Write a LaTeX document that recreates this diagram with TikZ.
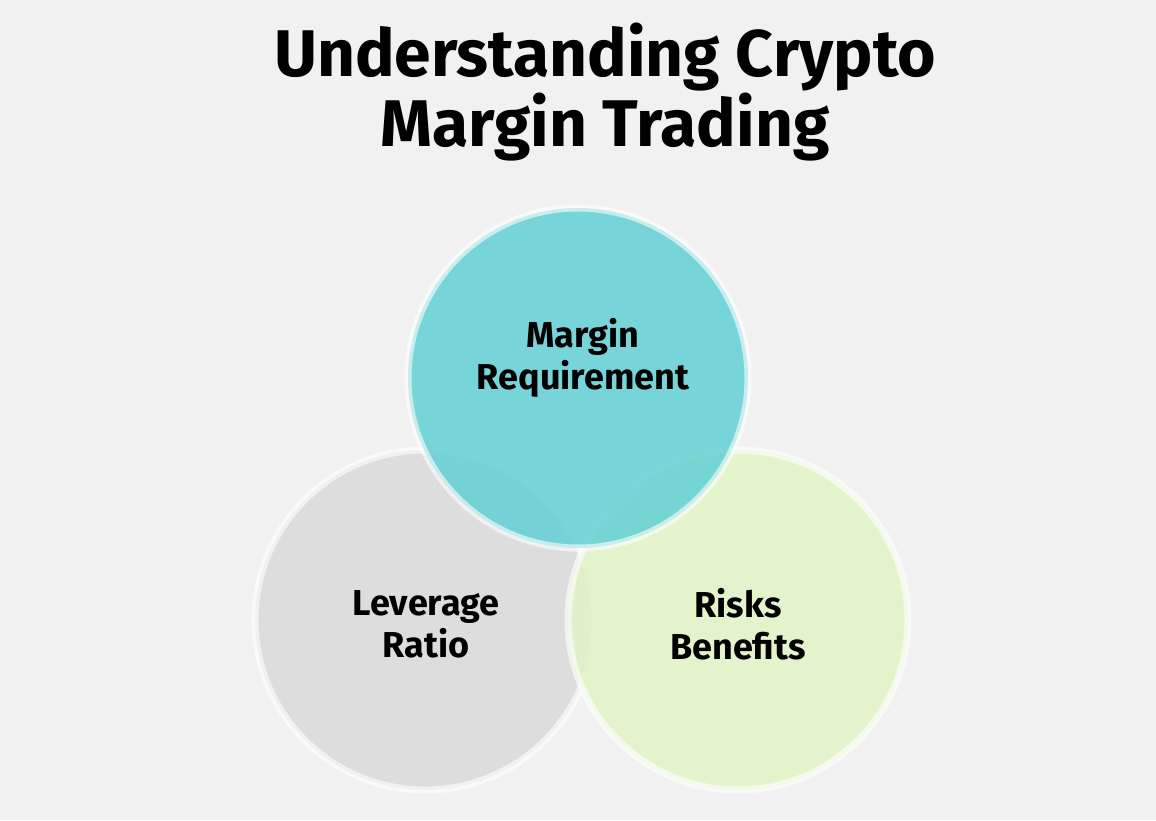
\documentclass[tikz,border=0pt]{standalone}
\usepackage{fontspec}
\setmainfont{Fira Sans}
\begin{document}
\begin{tikzpicture}[x=1pt,y=-1pt,
  circ/.style={fill opacity=0.85, draw=white, draw opacity=0.6, line width=7pt},
  lbl/.style={font=\fontsize{36}{42}\selectfont\bfseries, align=center, text=black}]
\fill[fill={rgb,255:red,240;green,241;blue,240}] (0,0) rectangle (1156,820);
\useasboundingbox (0,0) rectangle (1156,820);
\node[font=\fontsize{66}{70}\selectfont\bfseries, align=center] (title) at (605,92) {Understanding Crypto\\Margin Trading};
\draw[circ, fill={rgb,255:red,218;green,218;blue,218}] (425,620) circle (170);
\draw[circ, fill={rgb,255:red,225;green,245;blue,198}] (738,620) circle (170);
\draw[circ, fill={rgb,255:red,98;green,208;blue,212}] (578,378) circle (170);
\node[lbl] (m) at (583,358) {Margin\\Requirement};
\node[lbl] (l) at (426,624) {Leverage\\Ratio};
\node[lbl] (r) at (738,624) {Risks\\Benefits};
\end{tikzpicture}
\end{document}
